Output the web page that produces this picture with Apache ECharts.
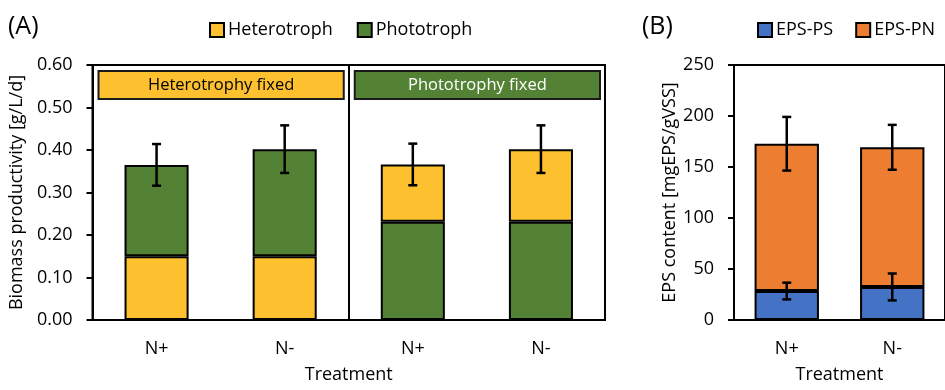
<!DOCTYPE html>
<html><head><meta charset="utf-8">
<script src="https://cdn.jsdelivr.net/npm/echarts@6/dist/echarts.min.js"></script>
<style>html,body{margin:0;padding:0;background:#fff}#c{width:945px;height:390px}</style>
</head><body><div id="c"></div>
<script>
// ---- Panel A data ----
const categoriesA = ['N+', 'N-', 'N+', 'N-'];
const heteroFixed_Hetero = [0.150, 0.150];   // lower part, "Heterotrophy fixed" group
const heteroFixed_Photo  = [0.215, 0.252];   // upper part
const photoFixed_Photo   = [0.231, 0.231];   // lower part, "Phototrophy fixed" group
const photoFixed_Hetero  = [0.135, 0.171];   // upper part
const errA = [0.049, 0.056, 0.049, 0.056];
const groupLabelsA = ['Heterotrophy fixed', 'Phototrophy fixed'];
const groupRangesA = [[0, 1], [2, 3]];
// ---- Panel B data ----
const categoriesB = ['N+', 'N-'];
const epsPS = [28.4, 32.4];
const epsPN = [144.4, 136.9];
const errPS = [8.2, 13.2];
const errTotalB = [26.3, 22.0];

const YEL = '#FDC02F', GRN = '#548235', BLU = '#4472C4', ORG = '#ED7D31';
const FONT = 'Open Sans';
const TXT = '#000';

const totalsA = [
  heteroFixed_Hetero[0] + heteroFixed_Photo[0],
  heteroFixed_Hetero[1] + heteroFixed_Photo[1],
  photoFixed_Photo[0] + photoFixed_Hetero[0],
  photoFixed_Photo[1] + photoFixed_Hetero[1]
];
const errDataA = totalsA.map((t, i) => [i, t, errA[i]]);
const errDataB = [];
epsPS.forEach((v, i) => errDataB.push([i, v, errPS[i]]));
epsPS.forEach((v, i) => errDataB.push([i, v + epsPN[i], errTotalB[i]]));

function errorSeries(xi, yi, data) {
  return {
    type: 'custom', xAxisIndex: xi, yAxisIndex: yi, silent: true, z: 10, data,
    renderItem(params, api) {
      const x = api.value(0), y = api.value(1), e = api.value(2);
      const t = api.coord([x, y + e]), b = api.coord([x, y - e]);
      const w = 4.5, st = { stroke: '#000', lineWidth: 2.5 };
      return { type: 'group', children: [
        { type: 'line', shape: { x1: t[0], y1: t[1], x2: b[0], y2: b[1] }, style: st },
        { type: 'line', shape: { x1: t[0] - w, y1: t[1], x2: t[0] + w, y2: t[1] }, style: st },
        { type: 'line', shape: { x1: b[0] - w, y1: b[1], x2: b[0] + w, y2: b[1] }, style: st }
      ]};
    }
  };
}

const barBase = { type: 'bar', barGap: '-100%' };

function yAxisBase(extra) {
  return Object.assign({
    type: 'value', min: 0, nameLocation: 'middle',
    nameTextStyle: { fontSize: 18, fontFamily: FONT, color: TXT },
    axisLine: { show: true, lineStyle: { color: '#000', width: 2 } },
    axisTick: { show: true, length: 6, lineStyle: { color: '#000', width: 2 } },
    axisLabel: { fontSize: 18, fontFamily: FONT, color: TXT, margin: 20 },
    splitLine: { show: false }
  }, extra);
}
function xAxisBase(extra) {
  return Object.assign({
    type: 'category', name: 'Treatment', nameLocation: 'middle', nameGap: 46,
    nameTextStyle: { fontSize: 18, fontFamily: FONT, color: TXT },
    axisLine: { show: true, lineStyle: { color: '#000', width: 2 } },
    axisTick: { show: false },
    splitLine: { show: false },
    axisLabel: { fontSize: 18, fontFamily: FONT, color: TXT, margin: 20 }
  }, extra);
}

const pad = (arr, before, after) => Array(before).fill('-').concat(arr, Array(after).fill('-'));
const bs = c => ({ color: c, borderColor: '#000', borderWidth: 2 });

const option = {
  animation: false,
  textStyle: { fontFamily: FONT },
  title: [
    { text: '(A)', left: 3, top: 9, textStyle: { fontSize: 25, fontWeight: 'normal', fontFamily: FONT, color: TXT } },
    { text: '(B)', left: 637, top: 9, textStyle: { fontSize: 25, fontWeight: 'normal', fontFamily: FONT, color: TXT } }
  ],
  legend: [
    { data: ['Heterotroph', 'Phototroph'], left: 204, top: 16, icon: 'rect', itemWidth: 14, itemHeight: 14, itemGap: 24,
      itemStyle: { borderColor: '#000', borderWidth: 2 },
      textStyle: { fontSize: 18, fontFamily: FONT, color: TXT, padding: [0, 0, 0, -1] }, selectedMode: false },
    { data: ['EPS-PS', 'EPS-PN'], left: 752, top: 16, icon: 'rect', itemWidth: 14, itemHeight: 14, itemGap: 22,
      itemStyle: { borderColor: '#000', borderWidth: 2 },
      textStyle: { fontSize: 18, fontFamily: FONT, color: TXT, padding: [0, 0, 0, -1] }, selectedMode: false }
  ],
  grid: [
    { left: 92, right: 340, top: 65, bottom: 70, show: true, borderColor: '#000', borderWidth: 2 },
    { left: 734, right: -3, top: 65, bottom: 70, show: true, borderColor: '#000', borderWidth: 2 }
  ],
  xAxis: [
    xAxisBase({ gridIndex: 0, data: categoriesA }),
    xAxisBase({ gridIndex: 1, data: categoriesB }),
    // hidden helper axis: draws the divider between the two treatment groups
    { type: 'value', gridIndex: 0, min: 0, max: categoriesA.length, interval: groupRangesA[1][0],
      axisLine: { show: false }, axisTick: { show: false }, axisLabel: { show: false },
      splitLine: { show: true, lineStyle: { color: '#000', width: 2 } } }
  ],
  yAxis: [
    yAxisBase({ gridIndex: 0, max: 0.6, interval: 0.1, name: 'Biomass productivity [g/L/d]', nameGap: 64,
      axisLabel: { fontSize: 18, fontFamily: FONT, color: TXT, margin: 20, formatter: v => v.toFixed(2) } }),
    yAxisBase({ gridIndex: 1, max: 250, interval: 50, name: 'EPS content [mgEPS/gVSS]', nameGap: 44 })
  ],
  series: [
    Object.assign({}, barBase, { name: 'Heterotroph', stack: 'g1', barWidth: '50%', data: pad(heteroFixed_Hetero, 0, 2), itemStyle: bs(YEL) }),
    Object.assign({}, barBase, { name: 'Phototroph', stack: 'g1', barWidth: '50%', data: pad(heteroFixed_Photo, 0, 2), itemStyle: bs(GRN) }),
    Object.assign({}, barBase, { name: 'Phototroph', stack: 'g2', barWidth: '50%', data: pad(photoFixed_Photo, 2, 0), itemStyle: bs(GRN) }),
    Object.assign({}, barBase, { name: 'Heterotroph', stack: 'g2', barWidth: '50%', data: pad(photoFixed_Hetero, 2, 0), itemStyle: bs(YEL) }),
    Object.assign({}, barBase, { name: 'EPS-PS', stack: 'b', xAxisIndex: 1, yAxisIndex: 1, barWidth: '61%', data: epsPS, itemStyle: bs(BLU) }),
    Object.assign({}, barBase, { name: 'EPS-PN', stack: 'b', xAxisIndex: 1, yAxisIndex: 1, barWidth: '61%', data: epsPN, itemStyle: bs(ORG) }),
    errorSeries(0, 0, errDataA),
    errorSeries(1, 1, errDataB),
    {
      type: 'custom', xAxisIndex: 0, yAxisIndex: 0, silent: true, z: 12,
      data: groupRangesA.map((r, i) => [r[0], r[1], i]),
      renderItem(params, api) {
        const i = api.value(2);
        const band = api.size([1, 0])[0];
        const a = api.coord([api.value(0), 0.586]);
        const b = api.coord([api.value(1), 0.520]);
        const x0 = a[0] - band / 2 + 6, x1 = b[0] + band / 2 - 5;
        const fill = i === 0 ? YEL : GRN, tc = i === 0 ? '#000' : '#fff';
        return { type: 'group', children: [
          { type: 'rect', shape: { x: x0, y: a[1], width: x1 - x0, height: b[1] - a[1] },
            style: { fill, stroke: '#1a1a1a', lineWidth: 2 } },
          { type: 'text', style: { x: (x0 + x1) / 2, y: (a[1] + b[1]) / 2, text: groupLabelsA[i],
            fill: tc, font: '16.5px "Open Sans"', align: 'center', verticalAlign: 'middle' } }
        ]};
      }
    }
  ]
};
const chart = echarts.init(document.getElementById('c'), null, { renderer: 'canvas' });
chart.setOption(option);
</script></body></html>
